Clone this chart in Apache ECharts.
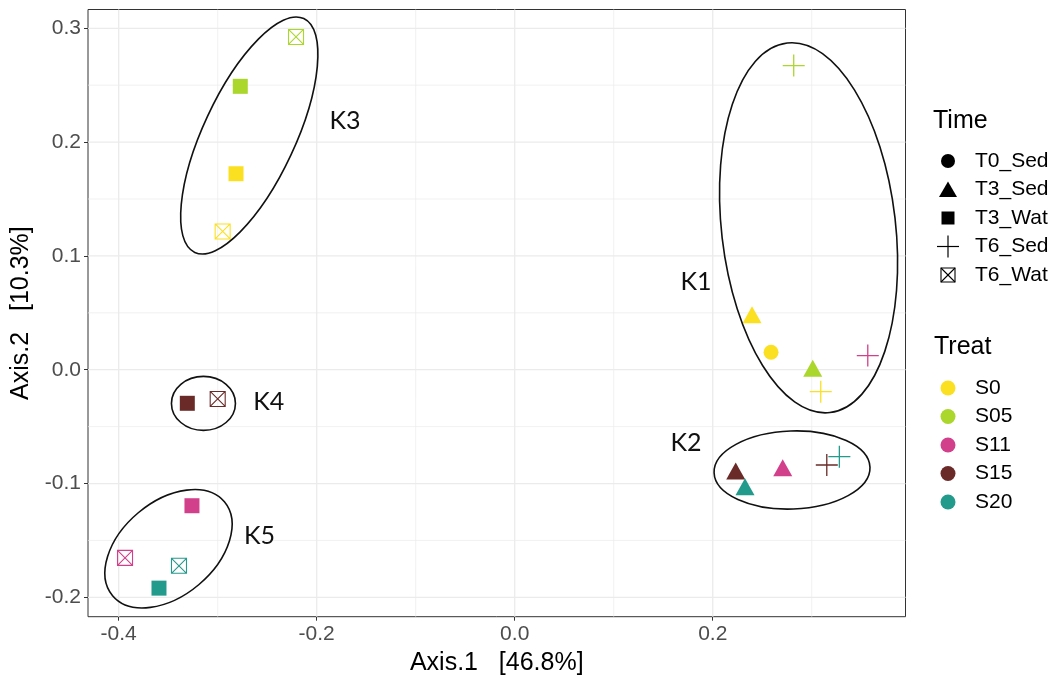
<!DOCTYPE html>
<html>
<head>
<meta charset="utf-8">
<script src="https://cdn.jsdelivr.net/npm/echarts@6/dist/echarts.min.js"></script>
<style>
  html, body { margin: 0; padding: 0; background: #fff; }
  #chart { width: 1057px; height: 684px; }
</style>
</head>
<body>
<div id="chart"></div>
<script>
// ---- PCoA sample scores ----
const timeLevels  = ['T0_Sed', 'T3_Sed', 'T3_Wat', 'T6_Sed', 'T6_Wat'];
const treatLevels = ['S0', 'S05', 'S11', 'S15', 'S20'];

const sampleTime  = ['T0_Sed',
  'T3_Sed', 'T3_Sed', 'T3_Sed', 'T3_Sed', 'T3_Sed',
  'T3_Wat', 'T3_Wat', 'T3_Wat', 'T3_Wat', 'T3_Wat',
  'T6_Sed', 'T6_Sed', 'T6_Sed', 'T6_Sed', 'T6_Sed',
  'T6_Wat', 'T6_Wat', 'T6_Wat', 'T6_Wat', 'T6_Wat'];
const sampleTreat = ['S0',
  'S0', 'S05', 'S11', 'S15', 'S20',
  'S0', 'S05', 'S11', 'S15', 'S20',
  'S0', 'S05', 'S11', 'S15', 'S20',
  'S0', 'S05', 'S11', 'S15', 'S20'];
const axis1 = [0.2589,
  0.2397, 0.3010, 0.2707, 0.2232, 0.2326,
  -0.2815, -0.2772, -0.3260, -0.3307, -0.3593,
  0.3091, 0.2818, 0.3566, 0.3152, 0.3279,
  -0.2950, -0.2209, -0.3936, -0.3000, -0.3391];
const axis2 = [0.0154,
  0.0482, 0.0013, -0.0861, -0.0890, -0.1028,
  0.1722, 0.2490, -0.1195, -0.0295, -0.1919,
  -0.0193, 0.2672, 0.0124, -0.0837, -0.0764,
  0.1215, 0.2924, -0.1653, -0.0257, -0.1723];

// ---- cluster annotations ----
const clusterNames   = ['K1', 'K2', 'K3', 'K4', 'K5'];
const clusterCenterX = [0.2968, 0.2801, -0.2681, -0.3144, -0.3497];
const clusterCenterY = [0.1247, -0.0881, 0.2058, -0.0296, -0.1573];
const clusterLabelX  = [0.1831, 0.1730, -0.1714, -0.2485, -0.2578];
const clusterLabelY  = [0.0768, -0.0639, 0.2188, -0.0283, -0.1464];

// ---- axes ----
const xTicks = [-0.4, -0.2, 0.0, 0.2];
const yTicks = [-0.2, -0.1, 0.0, 0.1, 0.2, 0.3];
const xGrid  = [-0.4, -0.3, -0.2, -0.1, 0.0, 0.1, 0.2, 0.3];
const yGrid  = [-0.2, -0.15, -0.1, -0.05, 0.0, 0.05, 0.1, 0.15, 0.2, 0.25, 0.3];
const xTitle = 'Axis.1   [46.8%]';
const yTitle = 'Axis.2   [10.3%]';

// ---- styling ----
const treatColors = { S0: '#FBE022', S05: '#ABD62C', S11: '#D23F8B', S15: '#6A2A27', S20: '#229A8C' };
const timeSymbols = {
  T0_Sed: { symbol: 'circle', size: 15, filled: true },
  T3_Sed: { symbol: 'triangle', size: [19, 17], filled: true },
  T3_Wat: { symbol: 'rect', size: 15, filled: true },
  T6_Sed: { symbol: 'path://M0,11H22M11,0V22', size: 22, filled: false, lw: 1.3 },
  T6_Wat: { symbol: 'path://M0,0H15V15H0ZM0,0L15,15M15,0L0,15', size: 15, filled: false, lw: 1.1 }
};
// ellipse outlines in pixels (radius along rotated x / y, rotation ccw in degrees)
const ellipseShape = {
  K1: { rx: 87, ry: 186, rot: 6.6 },
  K2: { rx: 78, ry: 39, rot: 2 },
  K3: { rx: 129, ry: 46, rot: 65 },
  K4: { rx: 32, ry: 27, rot: 0 },
  K5: { rx: 73, ry: 47, rot: 40 }
};
const tickFont = 'Liberation Sans, Arial, sans-serif';
const kFont = 'Lato, Open Sans, sans-serif';

const chart = echarts.init(document.getElementById('chart'), null, { renderer: 'canvas' });

// one scatter series per time level, coloured per treatment
const scatterSeries = timeLevels.map(t => {
  const sym = timeSymbols[t];
  const data = [];
  for (let i = 0; i < sampleTime.length; i++) {
    if (sampleTime[i] !== t) continue;
    const c = treatColors[sampleTreat[i]];
    data.push({
      value: [axis1[i], axis2[i]],
      itemStyle: sym.filled
        ? { color: c, opacity: 1 }
        : { color: 'none', borderColor: c, borderWidth: sym.lw, opacity: 1 }
    });
  }
  return {
    type: 'scatter', name: t, symbol: sym.symbol, symbolSize: sym.size,
    itemStyle: { opacity: 1 },
    data, z: 5, silent: true, animation: false
  };
});

function gridRender(vertical) {
  return function (params, api) {
    const cs = params.coordSys;
    const v = api.value(vertical ? 0 : 1);
    const major = vertical ? Math.abs(Math.round(v * 10)) % 2 === 0
                           : Math.abs(Math.round(v * 100)) % 10 === 0;
    const style = { stroke: '#EBEBEB', lineWidth: major ? 1.3 : 0.7 };
    if (vertical) {
      const px = api.coord([v, 0])[0];
      return { type: 'line', shape: { x1: px, y1: cs.y, x2: px, y2: cs.y + cs.height }, style };
    }
    const py = api.coord([0, v])[1];
    return { type: 'line', shape: { x1: cs.x, y1: py, x2: cs.x + cs.width, y2: py }, style };
  };
}

const clusterData = clusterNames.map((n, i) => [clusterCenterX[i], clusterCenterY[i]]);

// ---- legend drawn as graphic elements ----
function legendMark(kind, cx, cy, color) {
  switch (kind) {
    case 'T0_Sed':
      return [{ type: 'circle', shape: { cx, cy, r: 7 }, style: { fill: color } }];
    case 'T3_Sed':
      return [{ type: 'polygon', shape: { points: [[cx, cy - 8], [cx + 9, cy + 7.5], [cx - 9, cy + 7.5]] }, style: { fill: color } }];
    case 'T3_Wat':
      return [{ type: 'rect', shape: { x: cx - 6.5, y: cy - 6.5, width: 13, height: 13 }, style: { fill: color } }];
    case 'T6_Sed':
      return [
        { type: 'line', shape: { x1: cx - 11, y1: cy, x2: cx + 11, y2: cy }, style: { stroke: color, lineWidth: 1.2 } },
        { type: 'line', shape: { x1: cx, y1: cy - 11, x2: cx, y2: cy + 11 }, style: { stroke: color, lineWidth: 1.2 } }
      ];
    case 'T6_Wat':
      return [
        { type: 'rect', shape: { x: cx - 7, y: cy - 7, width: 14, height: 14 }, style: { fill: 'none', stroke: color, lineWidth: 1.1 } },
        { type: 'line', shape: { x1: cx - 7, y1: cy - 7, x2: cx + 7, y2: cy + 7 }, style: { stroke: color, lineWidth: 1.1 } },
        { type: 'line', shape: { x1: cx + 7, y1: cy - 7, x2: cx - 7, y2: cy + 7 }, style: { stroke: color, lineWidth: 1.1 } }
      ];
  }
  return [];
}

const legendElements = [];
const legSymX = 948, legTextX = 975;
legendElements.push({ type: 'text', x: 933, y: 121, style: { text: 'Time', fontSize: 25, fontFamily: tickFont, fill: '#000', verticalAlign: 'middle', align: 'left' } });
timeLevels.forEach((t, i) => {
  const cy = 161 + i * 28.5;
  legendMark(t, legSymX, cy, '#000').forEach(e => legendElements.push(e));
  legendElements.push({ type: 'text', x: legTextX, y: cy, style: { text: t, fontSize: 21, fontFamily: tickFont, fill: '#000', verticalAlign: 'middle', align: 'left' } });
});
legendElements.push({ type: 'text', x: 934, y: 347, style: { text: 'Treat', fontSize: 25, fontFamily: tickFont, fill: '#000', verticalAlign: 'middle', align: 'left' } });
treatLevels.forEach((s, i) => {
  const cy = 388 + i * 28.5;
  legendElements.push({ type: 'circle', shape: { cx: legSymX, cy, r: 7.5 }, style: { fill: treatColors[s] } });
  legendElements.push({ type: 'text', x: legTextX, y: cy, style: { text: s, fontSize: 21, fontFamily: tickFont, fill: '#000', verticalAlign: 'middle', align: 'left' } });
});

const option = {
  animation: false,
  backgroundColor: '#fff',
  grid: {
    left: 88, top: 9.5, right: 151.5, bottom: 67.3,
    show: true, borderColor: '#333', borderWidth: 1, backgroundColor: '#fff', containLabel: false
  },
  xAxis: {
    type: 'value', min: -0.431, max: 0.3947,
    name: xTitle, nameLocation: 'middle', nameGap: 34,
    nameTextStyle: { fontSize: 25, fontFamily: tickFont, color: '#000' },
    axisLine: { show: false, onZero: false },
    axisTick: { show: true, customValues: xTicks, length: 4, lineStyle: { color: '#333', width: 1 } },
    axisLabel: { customValues: xTicks, formatter: v => v.toFixed(1), fontSize: 21, fontFamily: tickFont, color: '#4D4D4D', margin: 7 },
    splitLine: { show: false }
  },
  yAxis: {
    type: 'value', min: -0.217, max: 0.3165,
    name: yTitle, nameLocation: 'middle', nameGap: 38, nameRotate: 90,
    nameTextStyle: { fontSize: 25, fontFamily: tickFont, color: '#000' },
    axisLine: { show: false, onZero: false },
    axisTick: { show: true, customValues: yTicks, length: 4, lineStyle: { color: '#333', width: 1 } },
    axisLabel: { customValues: yTicks, formatter: v => v.toFixed(1), fontSize: 21, fontFamily: tickFont, color: '#4D4D4D', margin: 7 },
    splitLine: { show: false }
  },
  series: [
    { type: 'custom', silent: true, z: 1, data: xGrid.map(v => [v, 0]), renderItem: gridRender(true) },
    { type: 'custom', silent: true, z: 1, data: yGrid.map(v => [0, v]), renderItem: gridRender(false) },
    ...scatterSeries,
    {
      type: 'custom', silent: true, z: 10, data: clusterData,
      renderItem: function (params, api) {
        const i = params.dataIndex;
        const name = clusterNames[i];
        const s = ellipseShape[name];
        const c = api.coord([api.value(0), api.value(1)]);
        const lp = api.coord([clusterLabelX[i], clusterLabelY[i]]);
        return {
          type: 'group',
          children: [
            {
              type: 'ellipse', x: c[0], y: c[1], rotation: s.rot * Math.PI / 180,
              shape: { cx: 0, cy: 0, rx: s.rx, ry: s.ry },
              style: { fill: 'none', stroke: '#111', lineWidth: 1.6 }
            },
            {
              type: 'text', x: lp[0], y: lp[1],
              style: { text: name, fontSize: 25, fontFamily: kFont, fill: '#111', align: 'center', verticalAlign: 'middle' }
            }
          ]
        };
      }
    }
  ],
  graphic: legendElements
};

chart.setOption(option);
</script>
</body>
</html>
